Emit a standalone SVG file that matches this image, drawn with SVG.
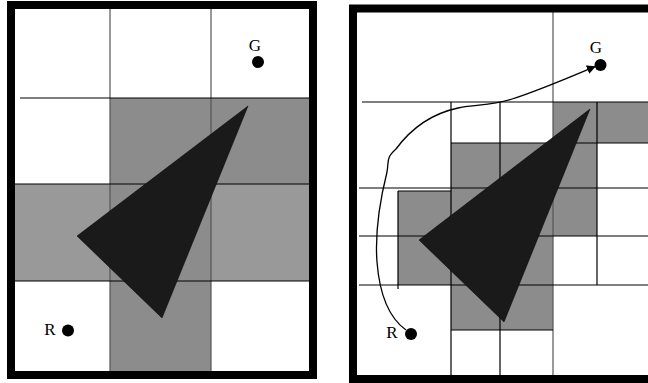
<svg xmlns="http://www.w3.org/2000/svg" width="648" height="383" viewBox="0 0 648 383">
<style>
.bg{fill:#ffffff}
.g1{fill:#8c8c8c}
.g2{fill:#999999}
.grid{stroke:#000;stroke-width:1.2;fill:none}
.frame{fill:none;stroke:#000;stroke-width:8}
.tri{fill:#1a1a1a;stroke:#000;stroke-width:0.5}
.dot{fill:#000}
.lbl{font-family:"Liberation Serif","Times New Roman",serif;font-size:17px;fill:#000;text-anchor:middle}
.path{fill:none;stroke:#000;stroke-width:1.3}
</style>
<defs>
<marker id="arr" viewBox="0 0 10 10" refX="9" refY="5" markerWidth="9" markerHeight="9" markerUnits="userSpaceOnUse" orient="auto">
<path d="M0,0 L10,5 L0,10 z" fill="#000"/>
</marker>
</defs>
<rect x="0" y="0" width="648" height="383" fill="#fff"/>

<g id="left-panel">
<rect class="g1" x="110" y="98" width="199" height="86"/>
<rect class="g2" x="15" y="184" width="95" height="97"/>
<rect class="g1" x="110" y="184" width="101" height="97"/>
<rect class="g2" x="211" y="184" width="98" height="97"/>
<rect class="g1" x="110" y="281" width="101" height="90"/>
<g class="grid">
<line x1="110" y1="9" x2="110" y2="371" stroke="#555"/>
<line x1="211" y1="9" x2="211" y2="371" stroke="#555"/>
<line x1="20" y1="98" x2="309" y2="98"/>
<line x1="15" y1="184" x2="309" y2="184"/>
<line x1="15" y1="281" x2="309" y2="281"/>
</g>
<polygon class="tri" points="248,106 77,236 162,318"/>
<rect class="frame" x="11" y="5" width="302" height="370"/>
</g>

<g id="left-G">
<text class="lbl" x="255" y="51">G</text>
<circle class="dot" cx="258" cy="62" r="6"/>
</g>
<g id="left-R">
<text class="lbl" x="50" y="335">R</text>
<circle class="dot" cx="68" cy="330.5" r="6"/>
</g>

<g id="right-panel">
<rect class="g1" x="553" y="102" width="95" height="41"/>
<rect class="g1" x="451" y="143" width="146" height="45"/>
<rect class="g1" x="398" y="191" width="53" height="94"/>
<rect class="g1" x="451" y="188" width="146" height="48"/>
<rect class="g1" x="451" y="236" width="102" height="94"/>
<g class="grid">
<line x1="553" y1="12" x2="553" y2="375" stroke="#555"/>
<line x1="362" y1="102" x2="648" y2="102"/>
<line x1="451" y1="102" x2="451" y2="375"/>
<line x1="500" y1="102" x2="500" y2="375"/>
<line x1="597" y1="102" x2="597" y2="285"/>
<line x1="451" y1="143" x2="648" y2="143"/>
<line x1="359" y1="188" x2="648" y2="188"/>
<line x1="398" y1="191" x2="451" y2="191"/>
<line x1="359" y1="236" x2="648" y2="236"/>
<line x1="359" y1="285" x2="648" y2="285"/>
<line x1="398" y1="191" x2="398" y2="289"/>
<line x1="451" y1="330" x2="553" y2="330"/>
</g>
<polygon class="tri" points="590,109 419,240 504,322"/>
<rect class="frame" x="353" y="8.5" width="320" height="370.5"/>
</g>

<g id="connectors">
<path class="path" marker-end="url(#arr)" d="M406,330 C392,320 380,300 377,262 C375,235 380,200 387,172 C389,160 386,158 396,149 C410,130 430,114 458,108 C478,104 490,106 512,99 C540,90 570,77 595,66.5"/>
</g>

<g id="right-G">
<text class="lbl" x="596" y="53">G</text>
<circle class="dot" cx="600.5" cy="65" r="6"/>
</g>
<g id="right-R">
<text class="lbl" x="392" y="338">R</text>
<circle class="dot" cx="411" cy="334" r="6"/>
</g>
</svg>
